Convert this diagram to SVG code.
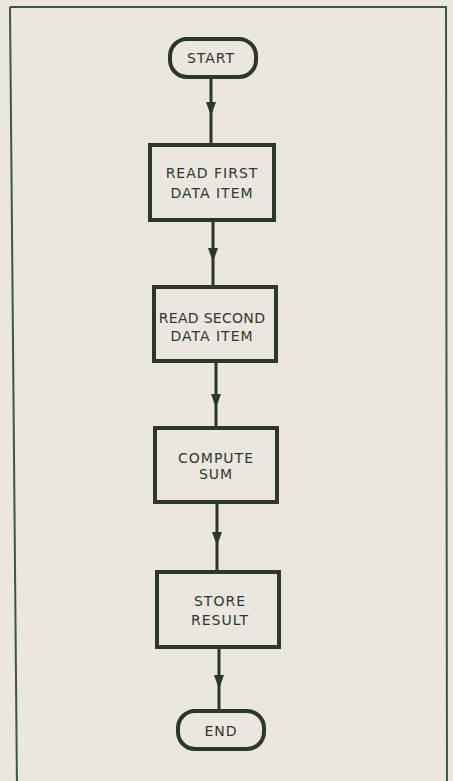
<svg xmlns="http://www.w3.org/2000/svg" width="453" height="781" viewBox="0 0 453 781">
<style>
.bg{fill:#ebe6e0}
.frame{fill:none;stroke:#3a5a3e;stroke-width:2}
.box{fill:none;stroke:#2c382b;stroke-width:4}
.lbl{font-family:"DejaVu Sans","Liberation Sans",sans-serif;font-size:14px;letter-spacing:1px;fill:#2f392d;text-anchor:middle}
.tight{letter-spacing:0.3px}
.conn{fill:none;stroke:#2c382b;stroke-width:3}
</style>
<defs>
<marker id="ah" viewBox="-14 -6 16 12" refX="0" refY="0" markerWidth="16" markerHeight="12" markerUnits="userSpaceOnUse" orient="auto">
<path d="M1,0 L-13,-5 L-13,5 Z" fill="#2c382b"/>
</marker>
</defs>
<rect class="bg" x="0" y="0" width="453" height="781"/>
<path class="frame" d="M10,7 L446,7 L447,790 M10,7 L17,790"/>
<g id="connectors">
<path class="conn" d="M211,79 L211,115 L211,143" marker-mid="url(#ah)"/>
<path class="conn" d="M213,222 L213,261 L213,285" marker-mid="url(#ah)"/>
<path class="conn" d="M216,363 L216,407 L216,426" marker-mid="url(#ah)"/>
<path class="conn" d="M217,504 L217,545 L217,570" marker-mid="url(#ah)"/>
<path class="conn" d="M219,649 L219,688 L219,709" marker-mid="url(#ah)"/>
</g>
<g id="start">
<rect class="box" x="170" y="39" width="86" height="38" rx="17"/>
<text class="lbl" x="211" y="63">START</text>
</g>
<g id="read-first">
<rect class="box" x="150" y="145" width="124" height="75"/>
<text class="lbl" x="212" y="178">READ FIRST</text>
<text class="lbl" x="212" y="198">DATA ITEM</text>
</g>
<g id="read-second">
<rect class="box" x="154" y="287" width="122" height="74"/>
<text class="lbl tight" x="212" y="323">READ SECOND</text>
<text class="lbl" x="212" y="341">DATA ITEM</text>
</g>
<g id="compute-sum">
<rect class="box" x="155" y="428" width="122" height="74"/>
<text class="lbl" x="216" y="463">COMPUTE</text>
<text class="lbl" x="216" y="479">SUM</text>
</g>
<g id="store-result">
<rect class="box" x="157" y="572" width="122" height="75"/>
<text class="lbl" x="220" y="606">STORE</text>
<text class="lbl" x="220" y="625">RESULT</text>
</g>
<g id="end">
<rect class="box" x="178" y="711" width="86" height="38" rx="17"/>
<text class="lbl" x="221" y="736">END</text>
</g>
</svg>
